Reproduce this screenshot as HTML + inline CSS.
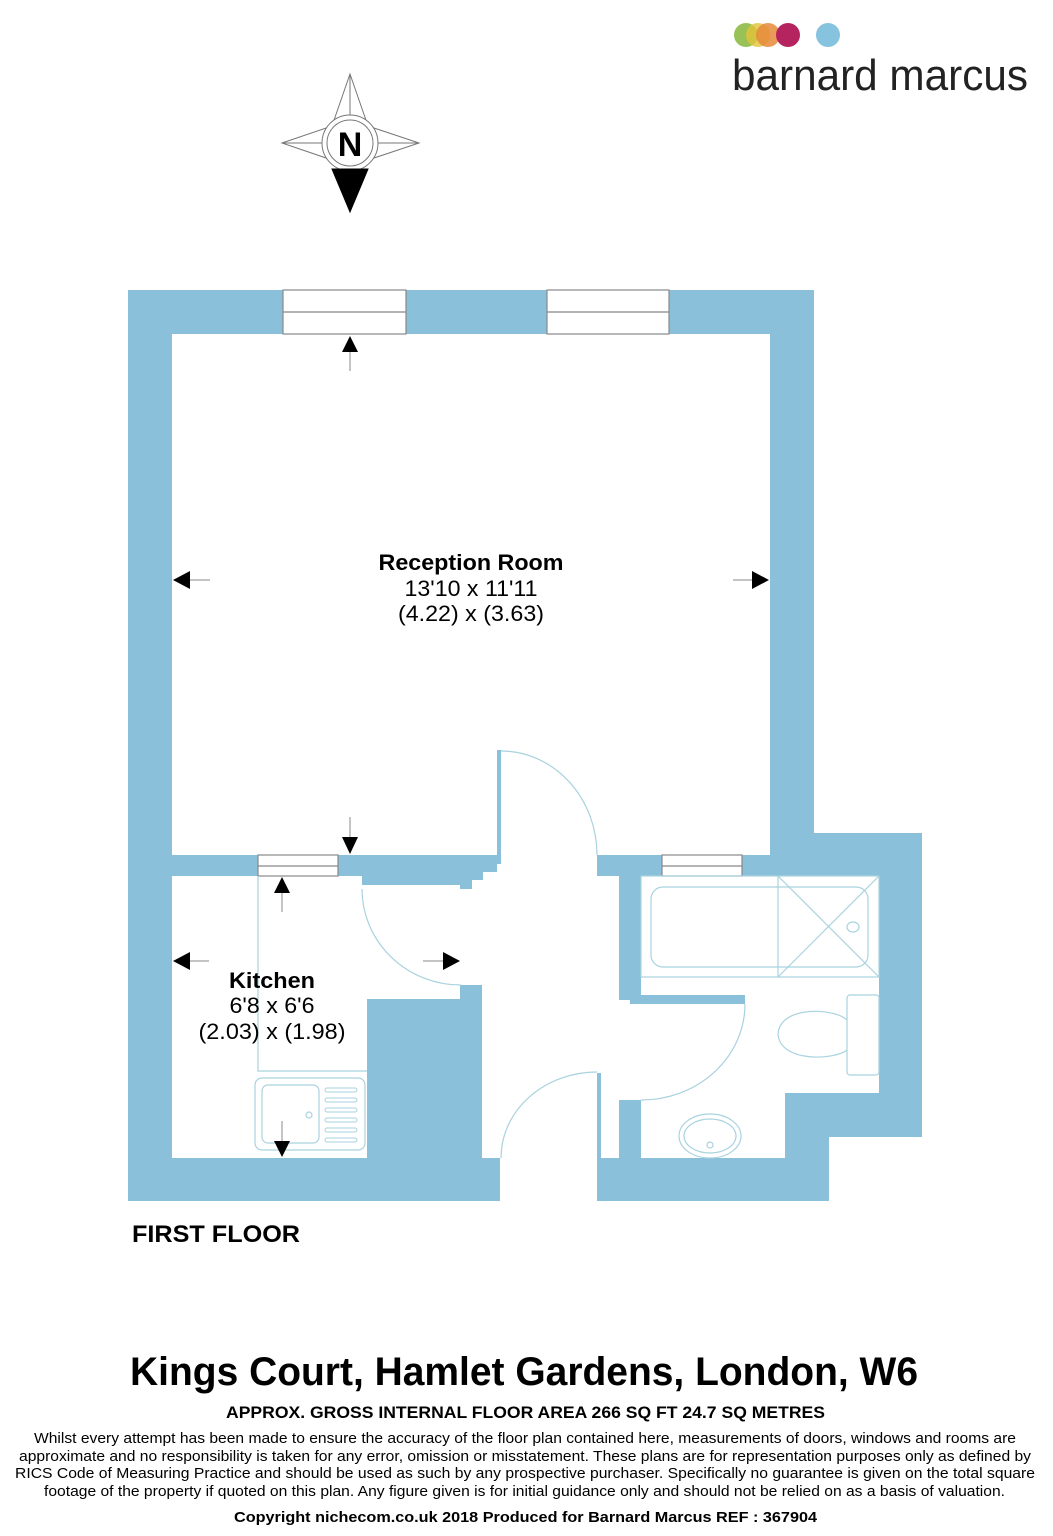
<!DOCTYPE html>
<html><head><meta charset="utf-8"><style>
html,body{margin:0;padding:0;background:#fff}
svg{display:block}
text{font-family:"Liberation Sans",Arial,sans-serif}
</style></head><body>
<svg width="1053" height="1536" viewBox="0 0 1053 1536" xmlns="http://www.w3.org/2000/svg">
<g>
<circle cx="746" cy="35" r="12" fill="#8dbb45" opacity="0.9"/>
<circle cx="758" cy="35" r="12" fill="#e2c33a" opacity="0.8"/>
<circle cx="768" cy="35" r="12" fill="#e58a3a" opacity="0.85"/>
<circle cx="788" cy="35" r="12" fill="#b5245f"/>
<circle cx="828" cy="35" r="12" fill="#86c3de"/>
<text x="732" y="90" font-size="44" fill="#222" textLength="296" lengthAdjust="spacingAndGlyphs" style="font-weight:300">barnard marcus</text>
</g>
<g stroke="#777" stroke-width="1" fill="#fff">
<polygon points="350,74 368,126 350,143 332,126"/>
<polygon points="282,143 332,126 350,143 332,160"/>
<polygon points="419,143 368,126 350,143 368,160"/>
<line x1="350" y1="74" x2="350" y2="143"/><line x1="282" y1="143" x2="419" y2="143"/>
<circle cx="350" cy="143" r="28"/><circle cx="350" cy="143" r="23"/>
<polygon points="332,169 368,169 350,212" fill="#000" stroke="#000"/>
</g>
<text x="350" y="156" font-size="34" font-weight="bold" text-anchor="middle">N</text>

<g fill="#8bc0da">
<rect x="128" y="290" width="686" height="44"/>
<rect x="128" y="290" width="44" height="911"/>
<rect x="770" y="290" width="44" height="565"/>
<rect x="771" y="833" width="151" height="43"/>
<rect x="879" y="833" width="43" height="304"/>
<rect x="785" y="1093" width="137" height="44"/>
<rect x="785" y="1093" width="44" height="108"/>
<rect x="601" y="1158" width="228" height="43"/>
<rect x="597" y="855" width="174" height="21"/>
<rect x="619" y="876" width="22" height="124"/>
<rect x="630" y="995" width="115" height="9"/>
<rect x="619" y="1100" width="22" height="58"/>
<rect x="597" y="1073" width="4" height="128"/>
<polygon points="172,855 497,855 497,750 501,750 501,864 497,864 497,872 483,872 483,880 472,880 472,889 460,889 460,885 362,885 362,876 172,876"/>
<rect x="128" y="1158" width="372" height="43"/>
<rect x="367" y="999" width="115" height="160"/>
<rect x="460" y="985" width="22" height="15"/>
</g>
<g fill="#fff" stroke="#888" stroke-width="1.2">
<rect x="283" y="290" width="123" height="44"/><line x1="283" y1="312" x2="406" y2="312"/>
<rect x="547" y="290" width="122" height="44"/><line x1="547" y1="312" x2="669" y2="312"/>
<rect x="258" y="855" width="80" height="21"/><line x1="258" y1="866" x2="338" y2="866"/>
<rect x="662" y="855" width="80" height="21"/><line x1="662" y1="866" x2="742" y2="866"/>
</g>
<g fill="none" stroke="#a9d2df" stroke-width="1.2">
<path d="M501,751 A96,104 0 0 1 597,855"/>
<path d="M362,889 A99,96 0 0 0 461,985"/>
<path d="M745,1004 A104,96 0 0 1 641,1100"/>
<path d="M501,1158 A96,86 0 0 1 597,1072"/>
<rect x="641" y="876" width="238" height="101"/>
<rect x="651" y="887" width="217" height="80" rx="12"/>
<line x1="778" y1="876" x2="778" y2="977"/>
<line x1="778" y1="876" x2="879" y2="977"/><line x1="879" y1="876" x2="778" y2="977"/>
<ellipse cx="853" cy="927" rx="6" ry="5"/>
<rect x="847" y="995" width="32" height="80" rx="3"/>
<path d="M847,1020 C835,1008 780,1005 778,1034 C780,1063 835,1060 847,1050"/>
<ellipse cx="710" cy="1136" rx="31" ry="22"/><ellipse cx="710" cy="1136" rx="26" ry="17"/>
<circle cx="710" cy="1145" r="3"/>
<path d="M258,876 V1071 H367"/>
<rect x="255" y="1078" width="110" height="72" rx="7"/>
<rect x="262" y="1085" width="57" height="58" rx="6"/>
<circle cx="309" cy="1115" r="3"/>
<g stroke-width="1"><rect x="325" y="1088" width="32" height="4" rx="2"/><rect x="325" y="1098" width="32" height="4" rx="2"/><rect x="325" y="1108" width="32" height="4" rx="2"/><rect x="325" y="1118" width="32" height="4" rx="2"/><rect x="325" y="1128" width="32" height="4" rx="2"/><rect x="325" y="1138" width="32" height="4" rx="2"/></g>
</g>
<g stroke="#888" stroke-width="1">
<line x1="350" y1="352" x2="350" y2="371"/>
<line x1="190" y1="580" x2="210" y2="580"/>
<line x1="733" y1="580" x2="752" y2="580"/>
<line x1="350" y1="817" x2="350" y2="837"/>
<line x1="282" y1="893" x2="282" y2="912"/>
<line x1="190" y1="961" x2="209" y2="961"/>
<line x1="423" y1="961" x2="443" y2="961"/>
<line x1="282" y1="1121" x2="282" y2="1141"/>
</g>
<g fill="#000">
<polygon points="350,336 342,352 358,352"/>
<polygon points="173,580 190,571 190,589"/>
<polygon points="769,580 752,571 752,589"/>
<polygon points="350,854 342,837 358,837"/>
<polygon points="282,877 274,893 290,893"/>
<polygon points="173,961 190,952 190,970"/>
<polygon points="460,961 443,952 443,970"/>
<polygon points="282,1157 274,1141 290,1141"/>
</g>
<g text-anchor="middle" font-size="22">
<text x="471" y="570" font-weight="bold" textLength="185" lengthAdjust="spacingAndGlyphs">Reception Room</text>
<text x="471" y="596" textLength="133" lengthAdjust="spacingAndGlyphs">13'10 x 11'11</text>
<text x="471" y="621" textLength="146" lengthAdjust="spacingAndGlyphs">(4.22) x (3.63)</text>
<text x="272" y="988" font-weight="bold" textLength="86" lengthAdjust="spacingAndGlyphs">Kitchen</text>
<text x="272" y="1013" textLength="85" lengthAdjust="spacingAndGlyphs">6'8 x 6'6</text>
<text x="272" y="1039" textLength="147" lengthAdjust="spacingAndGlyphs">(2.03) x (1.98)</text>
</g>
<text x="132" y="1242" font-size="24" font-weight="bold" textLength="168" lengthAdjust="spacingAndGlyphs">FIRST FLOOR</text>
<text x="130" y="1385" font-size="40" font-weight="bold" textLength="788" lengthAdjust="spacingAndGlyphs">Kings Court, Hamlet Gardens, London, W6</text>
<text x="226" y="1418" font-size="17" font-weight="bold" textLength="599" lengthAdjust="spacingAndGlyphs">APPROX. GROSS INTERNAL FLOOR AREA 266 SQ FT 24.7 SQ METRES</text>
<g font-size="15">
<text x="34" y="1443" textLength="982" lengthAdjust="spacingAndGlyphs">Whilst every attempt has been made to ensure the accuracy of the floor plan contained here, measurements of doors, windows and rooms are</text>
<text x="19" y="1461" textLength="1012" lengthAdjust="spacingAndGlyphs">approximate and no responsibility is taken for any error, omission or misstatement. These plans are for representation purposes only as defined by</text>
<text x="15" y="1478" textLength="1020" lengthAdjust="spacingAndGlyphs">RICS Code of Measuring Practice and should be used as such by any prospective purchaser.  Specifically no guarantee is given on the total square</text>
<text x="44" y="1496" textLength="961" lengthAdjust="spacingAndGlyphs">footage of the property if quoted on this plan. Any figure given is for initial guidance only and should not be relied on as a basis of valuation.</text>
</g>
<text x="234" y="1522" font-size="15" font-weight="bold" textLength="583" lengthAdjust="spacingAndGlyphs">Copyright nichecom.co.uk 2018    Produced for Barnard Marcus    REF : 367904</text>
</svg>
</body></html>
